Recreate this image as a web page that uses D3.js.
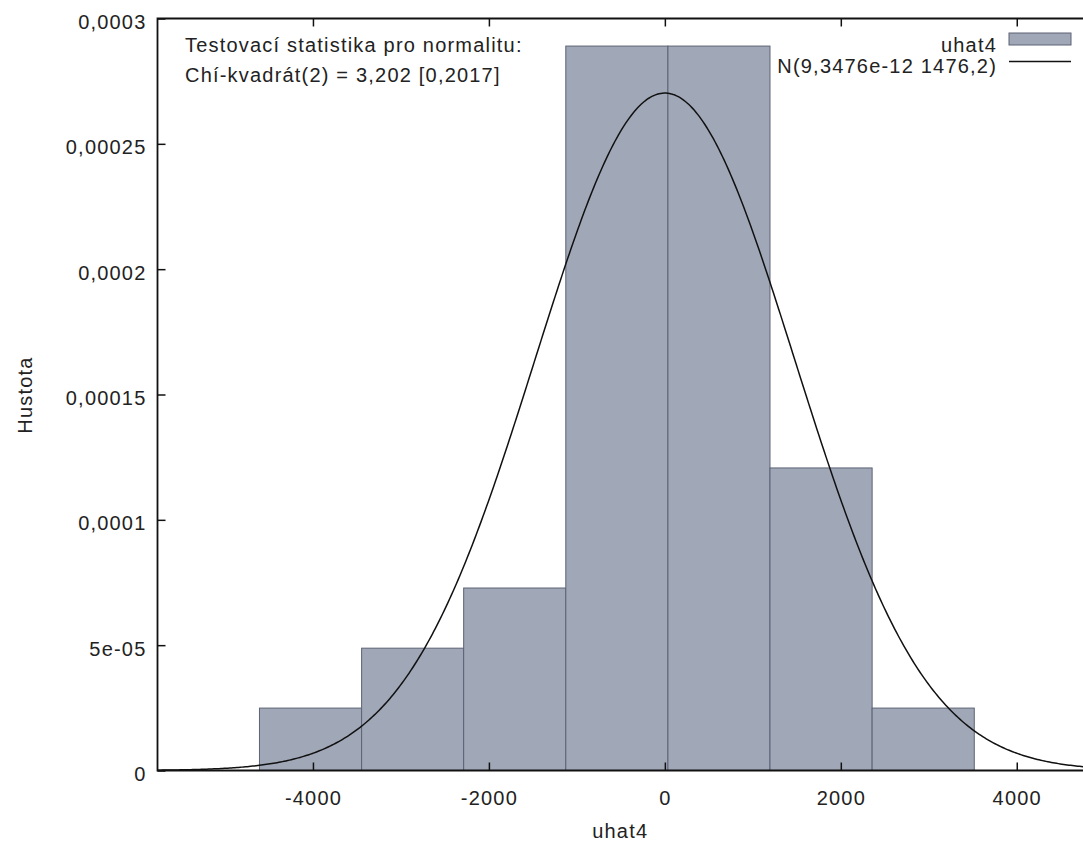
<!DOCTYPE html>
<html>
<head>
<meta charset="utf-8">
<script src="https://cdn.jsdelivr.net/npm/d3@7"></script>
<style>
  body { margin: 0; background: #fff; }
  svg text { font-family: "Liberation Sans", Arial, sans-serif; fill: #222; }
</style>
</head>
<body>
<svg id="chart" width="1083" height="841"></svg>
<script>
// histogram bins of uhat4 (edges + density per bin)
const binEdges = [-4608, -3447, -2287, -1126, 35, 1195, 2356, 3517];
const densities = [0.0000249, 0.0000488, 0.0000728, 0.000289, 0.000289, 0.0001207, 0.0000249];

// fitted normal from the legend
const normMean = 9.3476e-12;
const normSd = 1476.2;

const xTicks = [-4000, -2000, 0, 2000, 4000];
const yTicks = [0, 0.00005, 0.0001, 0.00015, 0.0002, 0.00025, 0.0003];
const yTickLabels = ["0", "5e-05", "0,0001", "0,00015", "0,0002", "0,00025", "0,0003"];

const testLines = ["Testovací statistika pro normalitu:", "Chí-kvadrát(2) = 3,202 [0,2017]"];
const legendLabels = ["uhat4", "N(9,3476e-12 1476,2)"];

const barFill = "#a0a7b7";
const barStroke = "#5d6374";
const fontSize = 20;
const ls = 1.2;

function drawChart() {
  const svg = d3.select("#chart");
  const left = 157.5, right = 1086, top = 18.5, bottom = 770.5;

  const x = d3.scaleLinear().domain([-5767, 4787]).range([left, right]);
  const y = d3.scaleLinear().domain([0, 0.0003]).range([bottom, top]);

  const bins = densities.map((d, i) => ({ x0: binEdges[i], x1: binEdges[i + 1], d }));

  // bars
  svg.append("g")
    .selectAll("rect")
    .data(bins)
    .enter()
    .append("rect")
    .attr("x", (d) => x(d.x0))
    .attr("y", (d) => y(d.d))
    .attr("width", (d) => x(d.x1) - x(d.x0))
    .attr("height", (d) => y(0) - y(d.d))
    .attr("fill", barFill)
    .attr("stroke", barStroke)
    .attr("stroke-width", 1);

  // normal density curve
  const pdf = (v) => Math.exp(-0.5 * ((v - normMean) / normSd) ** 2) / (normSd * Math.sqrt(2 * Math.PI));
  const xs = d3.range(x.domain()[0], x.domain()[1], 20);
  const line = d3.line().x((v) => x(v)).y((v) => y(pdf(v)));

  svg.append("clipPath").attr("id", "clip")
    .append("rect").attr("x", left).attr("y", top).attr("width", right - left).attr("height", bottom - top);

  svg.append("path")
    .datum(xs)
    .attr("clip-path", "url(#clip)")
    .attr("d", line)
    .attr("fill", "none")
    .attr("stroke", "#111")
    .attr("stroke-width", 1.5);

  // axes (inward ticks)
  const xAxis = d3.axisBottom(x).tickValues(xTicks).tickFormat((d) => String(d))
    .tickSizeInner(-8).tickSizeOuter(0).tickPadding(20);
  const gx = svg.append("g").attr("transform", `translate(0,${bottom})`).call(xAxis);

  const xTop = d3.axisTop(x).tickValues(xTicks).tickFormat("")
    .tickSizeInner(-8).tickSizeOuter(0);
  const gxt = svg.append("g").attr("transform", `translate(0,${top})`).call(xTop);

  const yAxis = d3.axisLeft(y).tickValues(yTicks).tickFormat((d, i) => yTickLabels[i])
    .tickSizeInner(-8).tickSizeOuter(0).tickPadding(11);
  const gy = svg.append("g").attr("transform", `translate(${left},0)`).call(yAxis);

  [gx, gxt, gy].forEach((g) => {
    g.select(".domain").remove();
    g.selectAll("line").attr("stroke", "#111").attr("stroke-width", 1.5);
    g.selectAll("text")
      .attr("font-family", "Liberation Sans, Arial, sans-serif")
      .attr("font-size", fontSize)
      .attr("letter-spacing", ls)
      .attr("fill", "#222");
  });
  gy.selectAll("text").attr("dy", "0.5em");

  // frame
  svg.append("path")
    .attr("d", `M${right},${top}H${left}V${bottom}H${right}`)
    .attr("fill", "none")
    .attr("stroke", "#111")
    .attr("stroke-width", 1.8);

  // axis titles
  svg.append("text")
    .attr("x", (left + 1083) / 2)
    .attr("y", 838)
    .attr("text-anchor", "middle")
    .attr("font-size", fontSize)
    .attr("letter-spacing", ls)
    .text("uhat4");

  svg.append("text")
    .attr("transform", "translate(32,395) rotate(-90)")
    .attr("text-anchor", "middle")
    .attr("font-size", fontSize)
    .attr("letter-spacing", ls)
    .text("Hustota");

  // normality test text
  svg.append("g")
    .selectAll("text")
    .data(testLines)
    .enter()
    .append("text")
    .attr("x", 185)
    .attr("y", (d, i) => 52 + i * 30)
    .attr("font-size", fontSize)
    .attr("letter-spacing", ls)
    .text((d) => d);

  // legend
  const lg = svg.append("g");
  lg.selectAll("text")
    .data(legendLabels)
    .enter()
    .append("text")
    .attr("x", 997)
    .attr("y", (d, i) => 52 + i * 21)
    .attr("text-anchor", "end")
    .attr("font-size", fontSize)
    .attr("letter-spacing", ls)
    .text((d) => d);

  lg.append("rect")
    .attr("x", 1009).attr("y", 33)
    .attr("width", 62).attr("height", 12)
    .attr("fill", barFill).attr("stroke", barStroke).attr("stroke-width", 1);

  lg.append("line")
    .attr("x1", 1009).attr("x2", 1071)
    .attr("y1", 61.5).attr("y2", 61.5)
    .attr("stroke", "#111").attr("stroke-width", 1.5);
}

drawChart();
</script>
</body>
</html>
